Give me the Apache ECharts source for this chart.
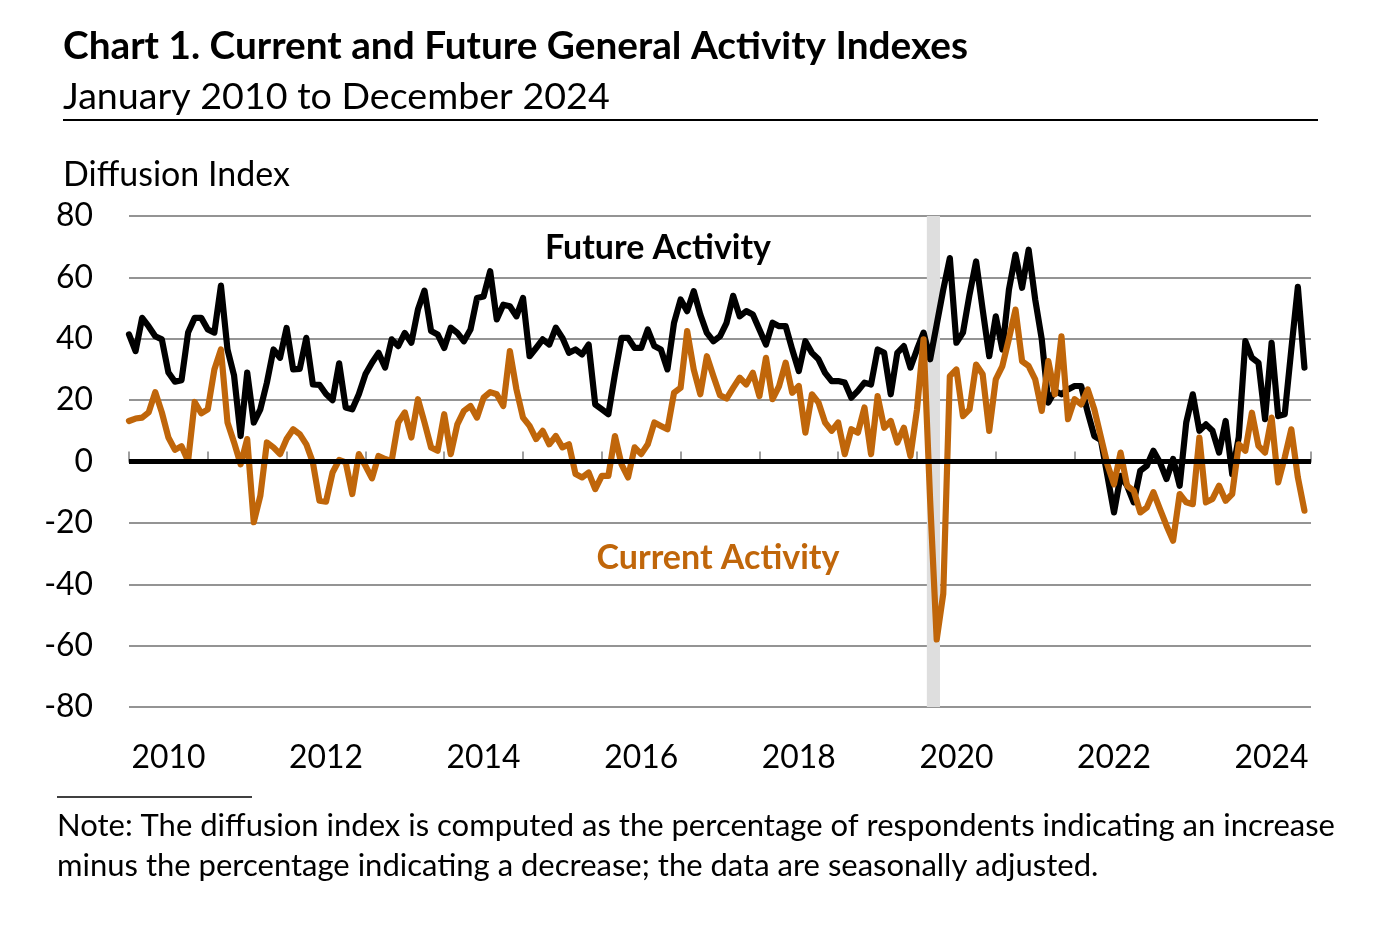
<!DOCTYPE html>
<html><head><meta charset="utf-8">
<script src="https://cdn.jsdelivr.net/npm/echarts@6/dist/echarts.min.js"></script>
<style>html,body{margin:0;padding:0;background:#fff}#c{width:1380px;height:928px}</style>
</head><body><div id="c"></div>
<script>
// ---- data ----
const startYear = 2010;
const years = ['2010','2011','2012','2013','2014','2015','2016','2017','2018','2019','2020','2021','2022','2023','2024'];
const future = [
 41.4,36,46.8,44,40.8,39.8,29,26,26.5,42,46.8,46.8,
 43,42,57.3,36.5,28,8.3,29,12.7,17,25.7,36.5,33.8,
 43.5,30,30.2,40.3,25.1,25,22,20,32,17.6,17,21.9,
 28.4,32.2,35.4,30.6,39.8,37.6,41.9,38.7,49.5,55.7,42.5,41.4,
 37,43.6,41.9,39.2,43,53.3,53.8,62,46.3,51.1,50.6,47.3,
 53.3,34.3,37,39.8,38.1,43.6,40.3,35.4,36.5,34.9,38.1,18.6,
 17,15.4,28.4,40.3,40.3,37,37,43,37.6,36.5,30,45.2,
 52.8,49,55.5,47.9,41.9,39.2,40.8,45.2,54,47.3,49,47.9,
 43,38.1,45.2,44.1,44.1,36.5,29.5,39.2,35.4,33.3,28.9,26.2,
 26.2,25.7,20.8,23,25.7,25.1,36.5,35.4,21.9,35.4,37.6,30.6,
 36.5,42,33.3,44.6,56,66.3,38.7,42,54.4,65.2,49.5,34.3,
 47.3,36.5,56,67.4,56.6,69,52.8,39.8,19.2,23,21.9,23.5,
 24.6,24.6,16,8.3,7,-4.7,-16.6,-4.7,-7.9,-13.3,-3,-1.4,
 3.5,-0.3,-5.7,0.8,-7.9,12.7,21.9,10,12.1,10,2.9,13.2,
 -4.1,8,39.2,33.8,32.2,13.8,38.7,14.8,15.4,36.5,56.9,30.6
];
const current = [
 13.2,14,14.3,16,22.6,16,7.8,3.8,5,0.2,19.4,15.7,
 17,30,36.5,12.7,6.2,-0.9,7.3,-19.8,-11.2,6.2,4.6,2.4,
 7.3,10.5,8.9,5.6,-0.3,-12.8,-13.1,-3.6,0.5,-0.3,-10.6,2.4,
 -1.4,-5.5,1.8,0.8,0.2,12.7,16,7.8,20.3,12.7,4.6,3.5,
 15.4,2.4,12.1,16.5,18.1,14.3,20.8,22.6,21.9,18.1,36,23.5,
 14.3,11.6,7.3,10,5.6,8.3,4.6,5.6,-4.1,-5.2,-3.6,-9,
 -4.7,-4.7,8.3,-0.9,-5.2,4.6,2.4,5.6,12.7,11.6,10.5,22.4,
 24,42.5,30,21.9,34.3,27.8,21.6,20.5,24,27.3,25.1,28.9,
 21.3,33.8,20.3,24.6,32.2,22.4,24.6,9.4,21.9,19.2,12.7,10,
 12.7,2.4,10.5,9.4,17.6,2.4,21.3,11,13.2,6.2,11,1.8,
 17,39.8,-12.7,-58,-43.1,27.8,30,14.8,17,31.6,28.4,10,
 26.8,31.1,40,49.5,32.7,31.1,26.8,16.5,32.7,21.9,40.8,13.8,
 20.3,18.6,23.5,17,8,-1,-7.4,2.9,-7.9,-9.5,-16.6,-15,
 -10,-15.5,-20.9,-25.8,-10.6,-13.3,-13.9,7.8,-13.3,-12.2,-7.9,-12.8,
 -10.6,5.6,3.5,15.9,5.1,2.9,14.3,-6.8,1.3,10.5,-5.2,-16
];
const recession = ['2020-02', '2020-04'];
const titleText = 'Chart 1. Current and Future General Activity Indexes';
const subtitleText = 'January 2010 to December 2024';
const yAxisTitle = 'Diffusion Index';
const futureLabel = 'Future Activity';
const currentLabel = 'Current Activity';
const note1 = 'Note: The diffusion index is computed as the percentage of respondents indicating an increase';
const note2 = 'minus the percentage indicating a decrease; the data are seasonally adjusted.';

// ---- helpers ----
const FONT = 'Lato';
const ORANGE = '#C0660A';
const ctx = document.createElement('canvas').getContext('2d');
function fit(text, weight, w) {
  ctx.font = weight + ' 100px ' + FONT;
  return 100 * w / ctx.measureText(text).width;
}
const toX = i => startYear + i / 12;
const ymToX = s => { const [y, m] = s.split('-').map(Number); return y + (m - 1 + 0.5) / 12; };
const futureData = future.map((v, i) => [toX(i), v]);
const currentData = current.map((v, i) => [toX(i), v]);

const axisFs = fit('2010', 'normal', 74);
const titleFs = fit(titleText, 'bold', 905);
const subFs = fit(subtitleText, 'normal', 547);
const yTitleFs = fit(yAxisTitle, 'normal', 227);
const futFs = fit(futureLabel, 'bold', 226);
const curFs = fit(currentLabel, 'bold', 243);
const noteFs = fit(note1, 'normal', 1278);

function txt(text, x, y, fs, weight, color, align) {
  return { type: 'text', x: x, y: y, silent: true,
    style: { text: text, fill: color || '#000', font: (weight || 'normal') + ' ' + fs + 'px ' + FONT,
      align: align || 'left', verticalAlign: 'middle' } };
}

const chart = echarts.init(document.getElementById('c'), null, { renderer: 'canvas' });
chart.setOption({
  animation: false,
  backgroundColor: '#fff',
  textStyle: { fontFamily: FONT },
  grid: { left: 129, right: 69, top: 216, bottom: 221, containLabel: false },
  xAxis: [
    { type: 'category', data: years, boundaryGap: true, position: 'bottom',
      axisLine: { lineStyle: { color: '#808080', width: 1.5 } },
      axisTick: { show: true, inside: true, length: 10, interval: 0, lineStyle: { color: '#808080', width: 1.5 } },
      axisLabel: { interval: 1, color: '#000', fontFamily: FONT, fontSize: axisFs, margin: 35 },
      splitLine: { show: false } },
    { type: 'value', min: 2010, max: 2025, show: false, splitLine: { show: false } }
  ],
  yAxis: { type: 'value', min: -80, max: 80, interval: 20,
    axisLine: { show: false }, axisTick: { show: false },
    axisLabel: { color: '#000', fontFamily: FONT, fontSize: axisFs, margin: 36 },
    splitLine: { lineStyle: { color: '#707070', width: 1.5 } } },
  series: [
    { type: 'line', name: futureLabel, xAxisIndex: 1, data: futureData, showSymbol: false,
      lineStyle: { color: '#000', width: 6.2, join: 'round', cap: 'round' }, z: 3,
      markArea: { silent: true, itemStyle: { color: '#dedede' },
        data: [[{ xAxis: ymToX(recession[0]) }, { xAxis: ymToX(recession[1]) }]] },
      markLine: { silent: true, symbol: 'none', label: { show: false },
        lineStyle: { color: '#000', width: 5, type: 'solid' }, data: [{ yAxis: 0 }] } },
    { type: 'line', name: currentLabel, xAxisIndex: 1, data: currentData, showSymbol: false,
      lineStyle: { color: ORANGE, width: 6.2, join: 'round', cap: 'round' }, z: 4 }
  ],
  graphic: [
    txt(titleText, 63, 46, titleFs, 'bold'),
    txt(subtitleText, 63, 97, subFs),
    { type: 'line', silent: true, shape: { x1: 63, y1: 120, x2: 1318, y2: 120 }, style: { stroke: '#000', lineWidth: 2 } },
    txt(yAxisTitle, 63, 175, yTitleFs),
    txt(futureLabel, 658, 248, futFs, 'bold', '#000', 'center'),
    txt(currentLabel, 718, 558, curFs, 'bold', ORANGE, 'center'),
    { type: 'line', silent: true, shape: { x1: 57, y1: 797, x2: 252, y2: 797 }, style: { stroke: '#000', lineWidth: 1.5 } },
    txt(note1, 57, 826, noteFs),
    txt(note2, 57, 866, noteFs)
  ]
});
</script>
</body></html>
